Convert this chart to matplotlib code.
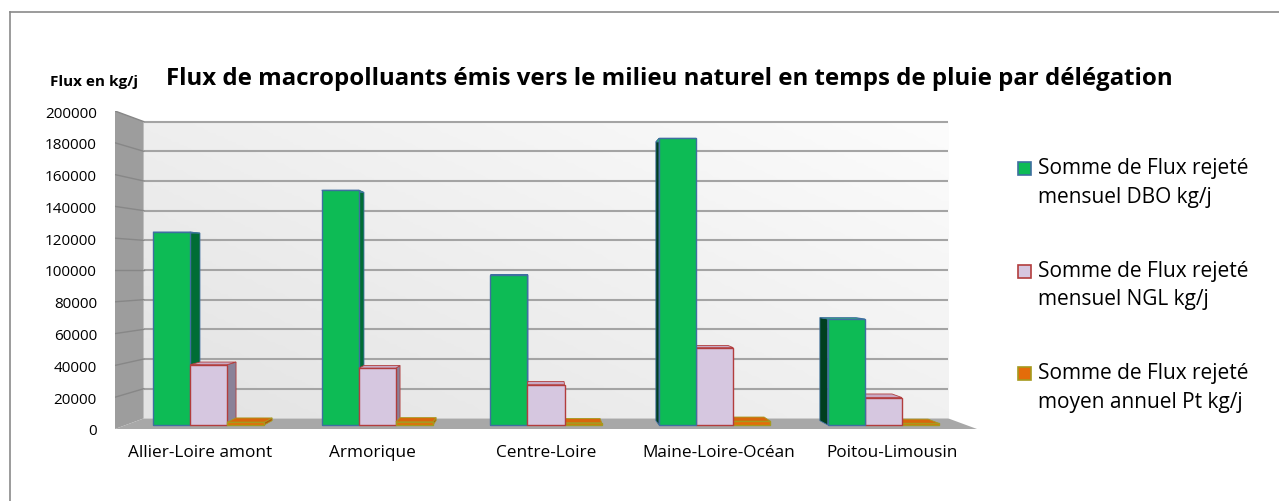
import numpy as np
import matplotlib.pyplot as plt
from matplotlib.patches import Polygon, Rectangle
from matplotlib.lines import Line2D
from matplotlib.colors import LinearSegmentedColormap

delegations = ["Allier-Loire amont", "Armorique", "Centre-Loire",
               "Maine-Loire-Océan", "Poitou-Limousin"]
dbo = [124500, 151500, 96800, 185000, 68400]
ngl = [38900, 36600, 26000, 49900, 17700]
pt = [1800, 2000, 1400, 2400, 1000]
series_names = ["Somme de Flux rejeté\nmensuel DBO kg/j",
                "Somme de Flux rejeté\nmensuel NGL kg/j",
                "Somme de Flux rejeté\nmoyen annuel Pt kg/j"]
yticks = np.arange(0, 200001, 20000)

plt.rcParams['font.family'] = ['Open Sans', 'DejaVu Sans']

W, H = 1279, 502
fig = plt.figure(figsize=(W / 100, H / 100), dpi=100)
ax = fig.add_axes([115 / W, 72 / H, 862 / W, 318 / H])
XMIN, XMAX, YMAX = -0.49, 4.49, 200000

# fake 3d: depth d in [0, 1] pulls a point toward the vanishing point
XC, YC, K = 2.0, 100000, 0.0665


def proj(x, y, d):
    s = 1 - K * np.asarray(d, dtype=float)
    return XC + (np.asarray(x, dtype=float) - XC) * s, YC + (np.asarray(y, dtype=float) - YC) * s


def face(xs, ys, ds, **kw):
    px, py = proj(xs, ys, ds)
    p = Polygon(np.column_stack([px, py]), closed=True, **kw)
    ax.add_patch(p)
    return p


# back wall with a soft gradient
bx, by = proj([XMIN, XMAX], [0, YMAX], 1)
u, v = np.meshgrid(np.linspace(0, 1, 200), np.linspace(0, 1, 100))
grad = 0.55 * u + 0.45 * v
wall_cmap = LinearSegmentedColormap.from_list("wall", ["#e3e3e3", "#fcfcfc"])
ax.imshow(grad, extent=[bx[0], bx[1], by[0], by[1]], origin='lower',
          cmap=wall_cmap, aspect='auto', zorder=0)

# left wall and floor
face([XMIN] * 4, [0, YMAX, YMAX, 0], [0, 0, 1, 1],
     facecolor="#9d9d9d", edgecolor="none", zorder=1)
face([XMIN, XMAX, XMAX, XMIN], [0] * 4, [0, 0, 1, 1],
     facecolor="#a8a8a8", edgecolor="none", zorder=1)

for t in yticks[1:]:
    gx, gy = proj([XMIN, XMAX], [t, t], 1)
    ax.plot(gx, gy, color="#a4a4a4", lw=1.5, zorder=1.5, solid_capstyle='butt')
    wx, wy = proj([XMIN, XMIN], [t, t], [0, 1])
    ax.plot(wx, wy, color="#878787", lw=1.0, zorder=1.5)

# bars
series = [dbo, ngl, pt]
front_c = ["#0dbb55", "#d6c7e0", "#e46c0a"]
edge_c = ["#3f6fa0", "#b23d3d", "#a59a1e"]
side_r = ["#006d35", "#8a8198", "#b35408"]
side_l = ["#003f1f", "#6f6680", "#8c4006"]
top_c = ["#24c76a", "#c8aac4", "#d8660c"]
D0, D1 = 0.38, 0.79
BW = 0.22
offsets = [-0.33, -0.11, 0.11]

boxes = []
for i in range(len(delegations)):
    for k in range(3):
        boxes.append((i + offsets[k], series[k][i], k))
# draw farthest from the vanishing point first
boxes.sort(key=lambda b: -abs(b[0] + BW / 2 - XC))

z = 3
for x0, val, k in boxes:
    x1 = x0 + BW
    if x0 + BW / 2 < XC:
        xs, sc = x1, side_r[k]
    else:
        xs, sc = x0, side_l[k]
    face([xs] * 4, [0, val, val, 0], [D0, D0, D1, D1],
         facecolor=sc, edgecolor=edge_c[k], lw=0.6, zorder=z)
    face([x0, x1, x1, x0], [val] * 4, [D0, D0, D1, D1],
         facecolor=top_c[k], edgecolor=edge_c[k], lw=0.6, zorder=z + 0.1)
    fx, fy = proj([x0, x1], [0, val], D0)
    ax.bar(fx[0], fy[1] - fy[0], width=fx[1] - fx[0], bottom=fy[0], align='edge',
           color=front_c[k], edgecolor=edge_c[k], lw=1.0, zorder=z + 0.2)
    z += 1

ax.set_xlim(XMIN, XMAX)
ax.set_ylim(0, YMAX)
ax.set_yticks(yticks)
ax.set_yticklabels([str(t) for t in yticks], fontsize=11)
ax.set_xticks(range(len(delegations)))
ax.set_xticklabels(delegations, fontsize=12.4)
ax.tick_params(length=0)
ax.tick_params(axis='y', pad=13)
ax.tick_params(axis='x', pad=11)
for s in ax.spines.values():
    s.set_visible(False)
ax.patch.set_visible(False)

fig.text(669 / W, 1 - 85 / H,
         "Flux de macropolluants émis vers le milieu naturel en temps de pluie par délégation",
         ha='center', va='baseline', fontsize=17.3, fontweight='bold')
fig.text(94 / W, 1 - 86 / H, "Flux en kg/j", ha='center', va='baseline',
         fontsize=11, fontweight='bold')

# legend
for k, name in enumerate(series_names):
    yc = 169 + 102.5 * k
    fig.patches.append(Rectangle((1018 / W, 1 - (yc + 7) / H), 13 / W, 13 / H,
                                 transform=fig.transFigure, facecolor=front_c[k],
                                 edgecolor=edge_c[k], lw=1.2))
    fig.text(1038 / W, 1 - (yc + 14) / H, name, ha='left', va='center',
             fontsize=15, linespacing=1.5)

# frame around the chart area
fig.add_artist(Line2D([10 / W, 1.01], [1 - 13 / H, 1 - 13 / H], color="#8a8a8a", lw=1.2))
fig.add_artist(Line2D([10 / W, 10 / W], [1 - 13 / H, -0.01], color="#8a8a8a", lw=1.2))

fig.savefig("out.png", dpi=100)
